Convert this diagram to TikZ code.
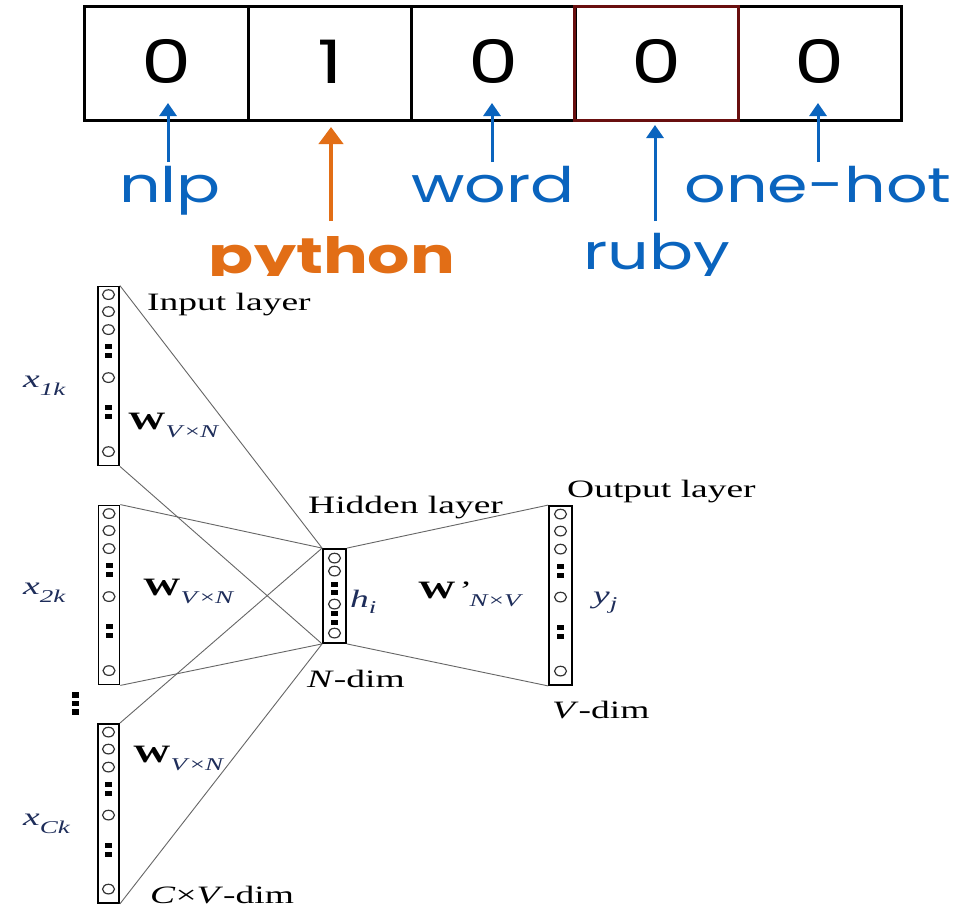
\documentclass[tikz,border=0pt]{standalone}
\usepackage{fontspec}
\setmainfont{Liberation Serif}
\newfontfamily\topfont{Poppins}
\usetikzlibrary{arrows.meta}
\definecolor{tblue}{RGB}{10,100,190}
\definecolor{torange}{RGB}{226,110,22}
\definecolor{rubyred}{RGB}{105,15,15}
\definecolor{navy}{RGB}{30,45,90}
\newcommand\hsx[1]{\scalebox{1.5}[1]{#1}}
\newcommand\tsx[1]{\scalebox{1.33}[1]{#1}}
\newcommand\subs[1]{\raisebox{-8pt}{\fontsize{18}{18}\selectfont\color{navy}#1}}
\newcommand\unitsof[3]{%
  \foreach \d in {#2} \draw[unit] ([yshift=-\d pt]#1.north) ellipse [x radius=6pt, y radius=4.8pt];
  \foreach \d in {#3} \fill ([yshift=-\d pt]#1.north) +(-3.5,-2.6) rectangle +(3.5,2.6);
}
\begin{document}
\begin{tikzpicture}[x=1pt,y=-1pt,
  cell/.style={draw, line width=3pt, minimum width=163.5pt, minimum height=113pt, inner sep=0pt},
  digit/.style={inner sep=0pt, anchor=base, font=\topfont\fontsize{60}{60}\selectfont},
  lbl/.style={inner sep=0pt, anchor=base, font=\topfont\fontsize{49}{49}\selectfont, text=tblue},
  barrow/.style={tblue, line width=3pt, -{Triangle[width=17pt,length=13pt]}},
  oarrow/.style={torange, line width=4.5pt, -{Triangle[width=24pt,length=17pt]}},
  layer/.style={draw, line width=1.8pt, minimum width=21pt, minimum height=179pt, inner sep=0pt},
  unit/.style={draw=black!80, line width=1.2pt},
  conn/.style={draw=black!60, line width=0.9pt},
  txt/.style={inner sep=0pt, anchor=base west, font=\fontsize{25}{25}\selectfont}
]
\useasboundingbox[fill=white] (0,0) rectangle (977,907);

% ---------- one-hot vector ----------
\begin{scope}
\clip (0,0) rectangle (977,275);
\node[cell] (c1) at (166.5,63.5) {};
\node[cell] (c2) at (330,63.5) {};
\node[cell] (c3) at (493.5,63.5) {};
\node[cell] (c5) at (820,63.5) {};
\node[cell, draw=rubyred] (c4) at (656.5,63.5) {};
\node[digit] (d1) at (166.5,84) {\tsx{0}};
\node[digit] (d2) at (330,84) {\tsx{1}};
\node[digit] (d3) at (493.5,84) {\tsx{0}};
\node[digit] (d4) at (656.5,84) {\tsx{0}};
\node[digit] (d5) at (820,84) {\tsx{0}};

\node[lbl] (lnlp) at (170,202) {\tsx{nlp}};
\node[lbl] (lword) at (493,202) {\tsx{word}};
\node[lbl] (lone) at (818,202) {\tsx{one-hot}};
\node[lbl] (lruby) at (657,269) {\tsx{ruby}};
\node[lbl, text=torange, font=\topfont\bfseries\fontsize{50}{50}\selectfont] (lpy) at (332,273) {\tsx{python}};

\coordinate (b1) at (168,162); \coordinate (t1) at (168,103);
\coordinate (b2) at (331,221); \coordinate (t2) at (331,127);
\coordinate (b3) at (492,162); \coordinate (t3) at (492,103);
\coordinate (b4) at (655,221); \coordinate (t4) at (655,125);
\coordinate (b5) at (818,162); \coordinate (t5) at (818,103);
\draw[barrow] (b1) -- (t1);
\draw[oarrow] (b2) -- (t2);
\draw[barrow] (b3) -- (t3);
\draw[barrow] (b4) -- (t4);
\draw[barrow] (b5) -- (t5);
\end{scope}

% ---------- CBOW network ----------
\node[layer] (in1) at (108.5,376) {};
\node[layer] (in2) at (109,595) {};
\node[layer] (in3) at (108.5,813.5) {};
\node[layer, minimum width=23pt, minimum height=94pt] (hid) at (334.5,596) {};
\node[layer, minimum width=23pt] (out) at (560.5,595.5) {};

\unitsof{in1}{9,26,44,92,166}{61,70,122,131}
\unitsof{in2}{9,26,44,92,166}{61,70,122,131}
\unitsof{in3}{9,26,44,92,166}{61,70,122,131}
\unitsof{out}{9,26,44,92,166}{61,70,122,131}
\unitsof{hid}{10,23,56,85}{36,44,65,74}

\foreach \yy in {695,703.5,712} \fill (75,\yy) +(-3.5,-2.6) rectangle +(3.5,2.6);

\draw[conn] (in1.north east) -- (hid.north west);
\draw[conn] (in1.south east) -- (hid.south west);
\draw[conn] (in2.north east) -- (hid.north west);
\draw[conn] (in2.south east) -- (hid.south west);
\draw[conn] (in3.north east) -- (hid.north west);
\draw[conn] (in3.south east) -- (hid.south west);
\draw[conn] (hid.north east) -- (out.north west);
\draw[conn] (hid.south east) -- (out.south west);

\node[txt] (tin) at (147,310) {\hsx{Input layer}};
\node[txt] (thid) at (308,513) {\hsx{Hidden layer}};
\node[txt] (tout) at (567,497) {\hsx{Output layer}};
\node[txt, text=navy] (x1) at (23,387) {\hsx{\textit{x}\subs{\textit{1k}}}};
\node[txt, text=navy] (x2) at (23,594) {\hsx{\textit{x}\subs{\textit{2k}}}};
\node[txt, text=navy] (x3) at (23,825) {\hsx{\textit{x}\subs{\textit{Ck}}}};
\node[txt] (w1) at (128,429) {\hsx{\textbf{W}\subs{\textit{V}×\textit{N}}}};
\node[txt] (w2) at (143,595) {\hsx{\textbf{W}\subs{\textit{V}×\textit{N}}}};
\node[txt] (w3) at (133,762) {\hsx{\textbf{W}\subs{\textit{V}×\textit{N}}}};
\node[txt] (w4) at (418,598) {\hsx{\textbf{W}\kern1pt\textit{'}\subs{\textit{N}×\textit{V}}}};
\node[txt, text=navy] (hi) at (350,607) {\hsx{\textit{h}\raisebox{-6pt}{\fontsize{18}{18}\selectfont\textit{i}}}};
\node[txt, text=navy] (yj) at (593,603) {\hsx{\textit{y}\raisebox{-6pt}{\fontsize{18}{18}\selectfont\textit{j}}}};
\node[txt] (ndim) at (307,687) {\hsx{\textit{N}-dim}};
\node[txt] (vdim) at (552,718) {\hsx{\textit{V}-dim}};
\node[txt] (cvdim) at (150,903) {\hsx{\textit{C}×\textit{V}-dim}};
\end{tikzpicture}
\end{document}
